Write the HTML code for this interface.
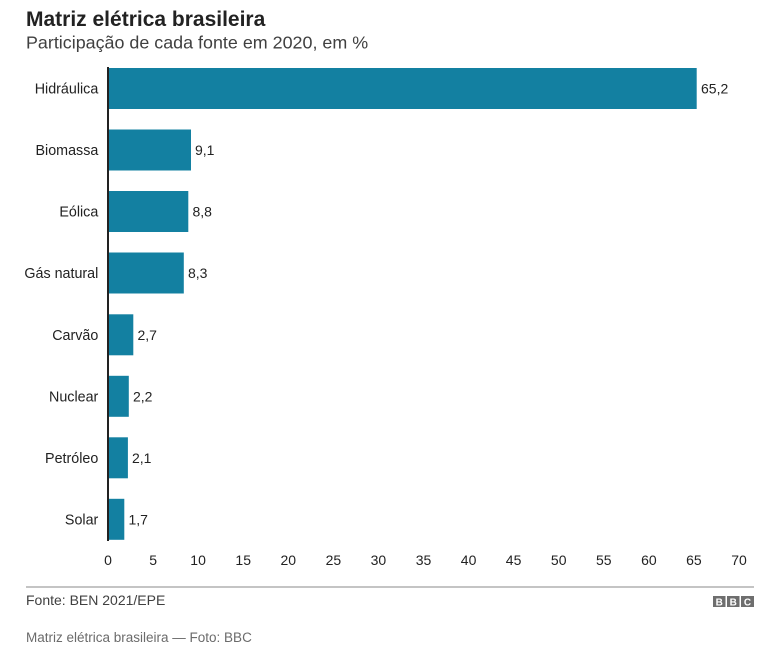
<!DOCTYPE html>
<html><head><meta charset="utf-8"><style>
html,body{margin:0;padding:0;background:#fff;}
body{width:783px;height:656px;overflow:hidden;position:relative;font-family:"Liberation Sans",Arial,sans-serif;}
</style></head><body>
<svg width="783" height="656" viewBox="0 0 783 656" xmlns="http://www.w3.org/2000/svg" style="position:absolute;left:0;top:0" font-family="Liberation Sans, Arial, sans-serif">
<text x="26" y="26" font-size="21" font-weight="bold" fill="#222">Matriz elétrica brasileira</text>
<text x="26" y="48.5" font-size="17.9" fill="#404040">Participação de cada fonte em 2020, em %</text>

<g fill="#1380A1">
<rect x="109" y="68" width="587.7" height="41"/>
<rect x="109" y="129.5" width="82" height="41"/>
<rect x="109" y="191" width="79.3" height="41"/>
<rect x="109" y="252.5" width="74.8" height="41"/>
<rect x="109" y="314.3" width="24.3" height="41"/>
<rect x="109" y="375.8" width="19.8" height="41"/>
<rect x="109" y="437.3" width="18.9" height="41"/>
<rect x="109" y="498.8" width="15.3" height="41"/>
</g>
<rect x="107" y="67" width="2" height="474" fill="#222"/>

<g font-size="14.3" fill="#222" text-anchor="end">
<text x="98.3" y="93.5">Hidráulica</text>
<text x="98.3" y="155">Biomassa</text>
<text x="98.3" y="216.5">Eólica</text>
<text x="98.3" y="278">Gás natural</text>
<text x="98.3" y="339.8">Carvão</text>
<text x="98.3" y="401.3">Nuclear</text>
<text x="98.3" y="462.8">Petróleo</text>
<text x="98.3" y="524.3">Solar</text>
</g>
<g font-size="14" fill="#222">
<text x="701" y="93.5">65,2</text>
<text x="195" y="155">9,1</text>
<text x="192.5" y="216.5">8,8</text>
<text x="188" y="278">8,3</text>
<text x="137.5" y="339.8">2,7</text>
<text x="133" y="401.3">2,2</text>
<text x="132" y="462.8">2,1</text>
<text x="128.5" y="524.3">1,7</text>
</g>
<g font-size="14" fill="#222" text-anchor="middle">
<text x="108" y="565">0</text>
<text x="153.1" y="565">5</text>
<text x="198.1" y="565">10</text>
<text x="243.2" y="565">15</text>
<text x="288.3" y="565">20</text>
<text x="333.4" y="565">25</text>
<text x="378.4" y="565">30</text>
<text x="423.5" y="565">35</text>
<text x="468.6" y="565">40</text>
<text x="513.6" y="565">45</text>
<text x="558.7" y="565">50</text>
<text x="603.8" y="565">55</text>
<text x="648.9" y="565">60</text>
<text x="693.9" y="565">65</text>
<text x="739" y="565">70</text>
</g>

<rect x="26" y="586.5" width="728" height="1" fill="#8a8a8a"/>
<text x="26" y="605" font-size="14" fill="#404040">Fonte: BEN 2021/EPE</text>
<g>
<rect x="713" y="596" width="12.5" height="11" fill="#6e6e6e"/>
<rect x="727" y="596" width="12.5" height="11" fill="#6e6e6e"/>
<rect x="741" y="596" width="13" height="11" fill="#6e6e6e"/>
<g font-size="10" font-weight="bold" fill="#fff" text-anchor="middle">
<text x="719.3" y="605.5">B</text>
<text x="733.3" y="605.5">B</text>
<text x="747.5" y="605.5">C</text>
</g>
</g>
<text x="26" y="642" font-size="13.5" fill="#6b6b6b">Matriz elétrica brasileira — Foto: BBC</text>
</svg>
</body></html>
